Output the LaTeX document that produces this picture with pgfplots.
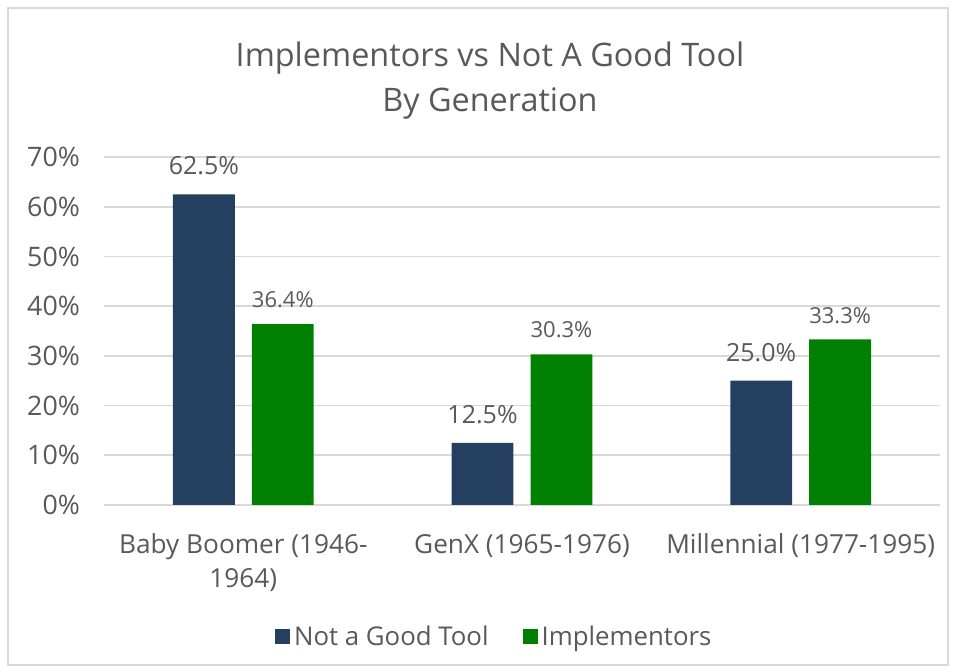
\documentclass[border=0pt]{standalone}
\usepackage{fontspec}
\setmainfont{Open Sans}
\usepackage{pgfplots}
\pgfplotsset{compat=1.18}
\definecolor{cNavy}{HTML}{243F60}
\definecolor{cGreen}{HTML}{008000}
\definecolor{cText}{HTML}{595959}
\definecolor{cGrid}{HTML}{D9D9D9}

\begin{document}
\begin{tikzpicture}
% chart frame (1px = 0.5pt), plot area lower left at (0,0)
\path (-52pt,-83.5pt) rectangle (425pt,252.5pt);
\draw[cGrid, line width=0.8pt] (-48pt,-80pt) rectangle (422pt,248.5pt);
\begin{axis}[
    at={(0,0)}, anchor=south west,
    scale only axis,
    width=418pt, height=174pt,
    xmin=-0.5, xmax=2.5,
    ymin=0, ymax=70,
    ytick={0,10,...,70},
    yticklabel={\pgfmathprintnumber{\tick}\%},
    /pgf/number format/assume math mode=true,
    xtick={0,1,2},
    xticklabels={{Baby Boomer (1946-\\1964)},{GenX (1965-1976)},{Millennial (1977-1995)}},
    xticklabel style={align=center, font=\fontsize{13.1}{17}\selectfont, text=cText, yshift=-11pt},
    yticklabel style={font=\fontsize{13.4}{15}\selectfont, text=cText, xshift=-8.5pt},
    major tick length=0pt,
    ymajorgrids, grid style={cGrid, line width=0.8pt},
    axis line style={draw=none},
    ybar, bar width=0.222,
    every axis plot/.append style={draw=none},
    nodes near coords={\pgfmathprintnumber[fixed,fixed zerofill,precision=1]{\pgfplotspointmeta}\%},
    legend columns=2,
    legend style={at={(rel axis cs:0.468,0)}, yshift=-66pt, anchor=center, draw=none,
        font=\fontsize{12.9}{15}\selectfont, text=cText,
        /tikz/every even column/.append style={column sep=15pt}},
    legend image code/.code={\fill[#1] (0pt,-3.75pt) rectangle (7.5pt,3.75pt);},
]
\draw[cGrid, line width=0.8pt] (rel axis cs:0,0) -- (rel axis cs:1,0);
\addplot[fill=cNavy, bar shift=-0.1416,
    every node near coord/.append style={font=\fontsize{12.5}{15}\selectfont, text=cText, yshift=6pt}]
    coordinates {(0,62.5) (1,12.5) (2,25.0)};
\addplot[fill=cGreen, bar shift=0.1416,
    every node near coord/.append style={font=\fontsize{11}{13}\selectfont, text=cText, yshift=4.5pt}]
    coordinates {(0,36.4) (1,30.3) (2,33.3)};
\legend{Not a Good Tool, Implementors}
\end{axis}
\node[text=cText, font=\fontsize{16.2}{22.5}\selectfont, align=center] at (193pt,212.25pt)
    {Implementors vs Not A Good Tool\\By Generation};
\end{tikzpicture}
\end{document}
